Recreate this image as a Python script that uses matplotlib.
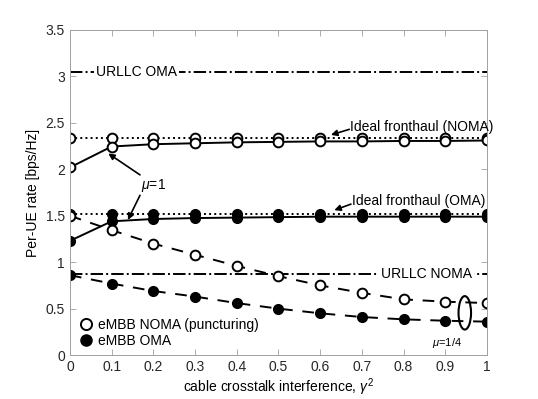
import numpy as np
import matplotlib.pyplot as plt
from matplotlib.patches import Ellipse

plt.rcParams['font.family'] = ['Liberation Sans', 'DejaVu Sans']
plt.rcParams['mathtext.fontset'] = 'custom'
plt.rcParams['mathtext.it'] = 'Liberation Sans:italic'
plt.rcParams['mathtext.rm'] = 'Liberation Sans'

gamma2 = [0, 0.1, 0.2, 0.3, 0.4, 0.5, 0.6, 0.7, 0.8, 0.9, 1.0]

noma_ideal = [2.34] * 11
noma_mu1 = [2.02, 2.245, 2.27, 2.28, 2.29, 2.295, 2.30, 2.30, 2.305, 2.305, 2.31]
oma_ideal = [1.52] * 11
oma_mu1 = [1.23, 1.44, 1.465, 1.475, 1.48, 1.485, 1.49, 1.49, 1.49, 1.49, 1.49]
noma_mu14 = [1.50, 1.345, 1.20, 1.08, 0.96, 0.85, 0.75, 0.67, 0.60, 0.575, 0.56]
oma_mu14 = [0.86, 0.77, 0.69, 0.63, 0.56, 0.50, 0.45, 0.41, 0.385, 0.37, 0.36]

urllc_oma = 3.05
urllc_noma = 0.875

fig = plt.figure(figsize=(5.38, 3.99), dpi=100)
ax = fig.add_axes([0.13, 0.11, 0.775, 0.815])

ms = 7
lw = 1.4
open_kw = dict(marker='o', markersize=ms, markerfacecolor='white',
               markeredgecolor='black', markeredgewidth=1.4, color='black', linewidth=lw)
fill_kw = dict(marker='o', markersize=ms, markerfacecolor='black',
               markeredgecolor='black', color='black', linewidth=lw)

ax.axhline(urllc_oma, color='black', linestyle='-.', linewidth=lw)
ax.axhline(urllc_noma, color='black', linestyle='-.', linewidth=lw)

ax.plot(gamma2, noma_ideal, linestyle=':', **open_kw)
ax.plot(gamma2, noma_mu1, linestyle='-', **open_kw)
ax.plot(gamma2, oma_ideal, linestyle=':', **fill_kw)
ax.plot(gamma2, oma_mu1, linestyle='-', **fill_kw)
ax.plot(gamma2, noma_mu14, linestyle=(0, (6, 5)), label='eMBB NOMA (puncturing)', **open_kw)
ax.plot(gamma2, oma_mu14, linestyle=(0, (6, 5)), label='eMBB OMA', **fill_kw)

fs = 10
ax.text(0.062, urllc_oma, 'URLLC OMA', fontsize=fs, va='center', ha='left',
        bbox=dict(facecolor='white', edgecolor='none', pad=1.5))
ax.text(0.745, urllc_noma, 'URLLC NOMA', fontsize=fs, va='center', ha='left',
        bbox=dict(facecolor='white', edgecolor='none', pad=1.5))

arrow = dict(arrowstyle='-|>', color='black', lw=1.2, mutation_scale=9,
             shrinkA=0, shrinkB=0)
# ideal fronthaul labels, arrow drawn separately from the text
ax.text(0.672, 2.46, 'Ideal fronthaul (NOMA)', fontsize=fs, va='center', ha='left')
ax.annotate('', xy=(0.626, 2.37), xytext=(0.67, 2.43), arrowprops=arrow)
ax.text(0.676, 1.655, 'Ideal fronthaul (OMA)', fontsize=fs, va='center', ha='left')
ax.annotate('', xy=(0.634, 1.56), xytext=(0.674, 1.625), arrowprops=arrow)

ax.text(0.2, 1.83, r'$\mu$=1', fontsize=fs, va='center', ha='center')
ax.annotate('', xy=(0.092, 2.17), xytext=(0.168, 1.94), arrowprops=arrow)
ax.annotate('', xy=(0.139, 1.455), xytext=(0.168, 1.72), arrowprops=arrow)

ax.add_patch(Ellipse((0.947, 0.455), 0.03, 0.36, fill=False, edgecolor='black', linewidth=1.5))
ax.text(0.905, 0.13, r'$\mu$=1/4', fontsize=8, ha='center', va='center')

ax.legend(loc='lower left', bbox_to_anchor=(0.008, 0.0), frameon=False, fontsize=fs,
          handlelength=0.8, handletextpad=0.5, labelspacing=0.15,
          borderaxespad=0.1)
leg = ax.get_legend()
for h in leg.legend_handles:
    h.set_linestyle('none')
    h.set_markersize(8)

ax.set_xlim(0, 1)
ax.set_ylim(0, 3.5)
ax.set_xticks(np.arange(0, 1.01, 0.1))
ax.set_xticklabels(['0', '0.1', '0.2', '0.3', '0.4', '0.5', '0.6', '0.7', '0.8', '0.9', '1'])
ax.set_yticks(np.arange(0, 3.51, 0.5))
ax.set_yticklabels(['0', '0.5', '1', '1.5', '2', '2.5', '3', '3.5'])
ax.tick_params(direction='in', top=True, right=True, labelsize=fs, labelcolor='#262626',
               length=4, width=0.6, color='#a0a0a0')
for s in ax.spines.values():
    s.set_color('#a0a0a0')
    s.set_linewidth(0.7)

ax.set_xlabel(r'cable crosstalk interference, $\gamma^2$', fontsize=fs, labelpad=2)
ax.set_ylabel('Per-UE rate [bps/Hz]', fontsize=fs)

fig.savefig('out.png', dpi=100)
